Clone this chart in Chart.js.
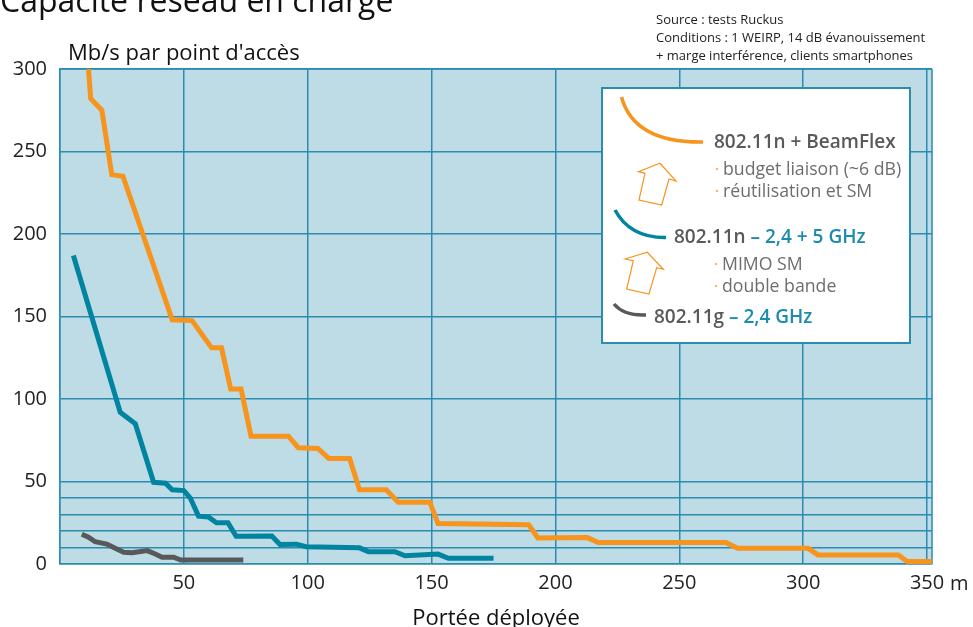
<!DOCTYPE html>
<html>
<head>
<meta charset="utf-8">
<script src="https://cdn.jsdelivr.net/npm/chart.js@4"></script>
<style>
  body { margin: 0; background: #fff; }
  #wrap { width: 973px; height: 627px; position: relative; }
</style>
</head>
<body>
<div id="wrap"><canvas id="myChart"></canvas></div>
<script>
// distance (m) / throughput (Mb/s)
const beamflexX = [11.5, 12.4, 16.9, 20.9, 25.4, 45.3, 53.3, 61.2, 65.2, 68.9, 73.1, 77.1, 92.2, 96.2, 104.1, 108.5, 116.9, 120.9, 131.7, 136.5, 149.3, 152.6, 189.2, 192.9, 212.8, 217.3, 268.8, 273.5, 302, 306, 338.4, 342, 352];
const beamflexY = [300, 282, 275, 236, 235, 148, 147.5, 131, 131, 106, 106, 77.5, 77.5, 70.5, 70, 64, 64, 45, 45, 37.5, 37.5, 24.5, 23.8, 15.8, 16, 13, 13, 9.5, 9.5, 5.5, 5.5, 1.5, 1.5];

const dualbandX = [5.4, 24.3, 30.4, 37.8, 42.6, 45.3, 50, 52.6, 55.9, 59.9, 63.2, 67.8, 71.1, 85.5, 88.8, 95.4, 99.3, 120.9, 124.5, 135.2, 139.3, 152.6, 156.8, 175];
const dualbandY = [187, 92, 85, 49.5, 49, 45, 44.5, 40, 29, 28.5, 25, 25, 16.8, 17, 11.8, 12, 10.5, 9.8, 7.5, 7.5, 5, 6, 3.5, 3.5];

const gX = [8.8, 11.5, 14.2, 18.9, 22.3, 25.7, 29.1, 35.2, 37.8, 41.2, 45.9, 48.7, 74];
const gY = [18, 16.2, 13.5, 12.1, 9.5, 7.1, 6.8, 8.1, 6.5, 4.1, 4.1, 2.4, 2.4];

const seriesNames = ["802.11n + BeamFlex", "802.11n – 2,4 + 5 GHz", "802.11g – 2,4 GHz"];
const yTickLabels = [0, 50, 100, 150, 200, 250, 300];
const xTicks = [0, 50, 100, 150, 200, 250, 300, 350];

const ORANGE = "#f7941d";
const TEAL = "#00849f";
const GREY = "#58595b";
const GRID = "#2b8cae";
const FONT = "'Open Sans', Lato, sans-serif";

function pts(xs, ys) {
  return xs.map((x, i) => ({ x: x, y: ys[i] }));
}

const decor = {
  id: "decor",
  beforeDraw(chart) {
    const { ctx, chartArea: a } = chart;
    ctx.save();
    ctx.fillStyle = "#bddce6";
    ctx.fillRect(a.left, a.top, a.right - a.left, a.bottom - a.top);
    ctx.restore();
  },
  beforeDatasetsDraw(chart) {
    const { ctx, chartArea: a } = chart;
    ctx.save();
    ctx.strokeStyle = GRID;
    ctx.lineWidth = 1.5;
    ctx.beginPath();
    ctx.moveTo(a.right, a.top);
    ctx.lineTo(a.right, a.bottom);
    ctx.moveTo(a.left, a.top);
    ctx.lineTo(a.right, a.top);
    ctx.stroke();
    ctx.restore();
  },
  afterDraw(chart) {
    const ctx = chart.ctx;
    const xs = chart.scales.x;
    ctx.save();

    // title, cut off at the top as in the picture
    ctx.fillStyle = "#111";
    ctx.font = "32px " + FONT;
    ctx.textBaseline = "alphabetic";
    ctx.fillText("Capacité réseau en charge", 0, 12);

    ctx.font = "22px " + FONT;
    ctx.fillText("Mb/s par point d'accès", 68, 60);

    // unit after last x tick
    ctx.fillStyle = "#222";
    ctx.textBaseline = "middle";
    ctx.font = "20px " + FONT;
    ctx.fillText("m", xs.getPixelForValue(350) + 23, 584);

    // source note
    ctx.textBaseline = "alphabetic";
    ctx.font = "13px " + FONT;
    ctx.fillStyle = "#222";
    ctx.fillText("Source : tests Ruckus", 656, 24);
    ctx.fillText("Conditions : 1 WEIRP, 14 dB évanouissement", 656, 42);
    ctx.fillText("+ marge interférence, clients smartphones", 656, 60);

    // legend box
    ctx.fillStyle = "#fff";
    ctx.fillRect(602, 88, 308, 255);
    ctx.strokeStyle = GRID;
    ctx.lineWidth = 2;
    ctx.strokeRect(602, 88, 308, 255);

    ctx.lineWidth = 3.5;
    ctx.lineCap = "butt";
    ctx.strokeStyle = ORANGE;
    ctx.beginPath();
    ctx.moveTo(621.5, 97);
    ctx.quadraticCurveTo(634, 143, 703, 142);
    ctx.stroke();

    ctx.strokeStyle = TEAL;
    ctx.beginPath();
    ctx.moveTo(615, 210);
    ctx.quadraticCurveTo(630, 238, 666, 237.5);
    ctx.stroke();

    ctx.strokeStyle = GREY;
    ctx.beginPath();
    ctx.moveTo(614, 304);
    ctx.quadraticCurveTo(624, 316, 646, 315);
    ctx.stroke();

    // hollow arrows
    ctx.strokeStyle = ORANGE;
    ctx.lineWidth = 1.2;
    ctx.lineJoin = "miter";
    const arrows = [
      [[638.3, 171.7], [660, 163.3], [676, 181], [669, 179], [661.7, 205], [639, 200], [645, 173.3]],
      [[625, 259], [647.3, 252.3], [663.3, 269.3], [656.7, 267.7], [649, 294], [626.7, 289], [633.3, 260.7]]
    ];
    arrows.forEach(p => {
      ctx.beginPath();
      ctx.moveTo(p[0][0], p[0][1]);
      p.slice(1).forEach(q => ctx.lineTo(q[0], q[1]));
      ctx.closePath();
      ctx.stroke();
    });

    // legend texts
    ctx.font = "600 19px " + FONT;
    ctx.fillStyle = "#595959";
    ctx.fillText(seriesNames[0], 714, 148);

    let w = 0;
    ctx.fillText("802.11n", 674, 243);
    w = ctx.measureText("802.11n").width;
    ctx.fillStyle = "#1b8bb0";
    ctx.fillText(" – 2,4 + 5 GHz", 674 + w, 243);

    ctx.fillStyle = "#595959";
    ctx.fillText("802.11g", 654, 323);
    w = ctx.measureText("802.11g").width;
    ctx.fillStyle = "#1b8bb0";
    ctx.fillText(" – 2,4 GHz", 654 + w, 323);

    const bullets = [
      ["budget liaison (~6 dB)", 723, 175],
      ["réutilisation et SM", 723, 197],
      ["MIMO SM", 722, 270],
      ["double bande", 722, 292]
    ];
    ctx.font = "17.7px " + FONT;
    bullets.forEach(b => {
      ctx.fillStyle = "#f9b87a";
      ctx.beginPath();
      ctx.arc(b[1] - 6, b[2] - 6, 1.3, 0, Math.PI * 2);
      ctx.fill();
      ctx.fillStyle = "#6d6d6d";
      ctx.fillText(b[0], b[1], b[2]);
    });

    ctx.restore();
  }
};

const ctx = document.getElementById("myChart");

new Chart(ctx, {
  type: "line",
  data: {
    datasets: [
      {
        label: seriesNames[0],
        data: pts(beamflexX, beamflexY),
        borderColor: ORANGE,
      },
      {
        label: seriesNames[1],
        data: pts(dualbandX, dualbandY),
        borderColor: TEAL,
      },
      {
        label: seriesNames[2],
        data: pts(gX, gY),
        borderColor: GREY,
      },
    ],
  },
  options: {
    responsive: true,
    maintainAspectRatio: false,
    animation: false,
    layout: { padding: { top: 69, right: 41, left: 0, bottom: 0 } },
    elements: {
      line: { borderWidth: 5, tension: 0, borderJoinStyle: "miter", fill: false },
      point: { radius: 0 },
    },
    plugins: {
      legend: { display: false },
      tooltip: { enabled: false },
    },
    scales: {
      x: {
        type: "linear",
        min: 0,
        max: 352,
        afterBuildTicks: (s) => { s.ticks = xTicks.map((v) => ({ value: v })); },
        afterFit: (s) => { s.height = 63; },
        grid: { color: GRID, lineWidth: 1.5, drawTicks: false },
        border: { color: GRID, width: 1.5 },
        ticks: {
          maxRotation: 0,
          autoSkip: false,
          padding: 7,
          color: "#222",
          font: { family: FONT, size: 20 },
          callback: (v) => (v === 0 ? "" : String(v)),
        },
        title: {
          display: true,
          text: "Portée déployée",
          color: "#111",
          font: { family: FONT, size: 22 },
          padding: { top: 0, bottom: -5 },
        },
      },
      y: {
        min: 0,
        max: 300,
        afterFit: (s) => { s.width = 60; },
        grid: {
          lineWidth: 1.5,
          drawTicks: false,
          color: (c) => (c.tick && (c.tick.value % 50 === 0 || c.tick.value < 50) ? GRID : "rgba(0,0,0,0)"),
        },
        border: { color: GRID, width: 1.5 },
        ticks: {
          stepSize: 10,
          autoSkip: false,
          padding: 13,
          color: "#222",
          font: { family: FONT, size: 20 },
          callback: (v) => (yTickLabels.includes(v) ? String(v) : ""),
        },
      },
    },
  },
  plugins: [decor],
});
</script>
</body>
</html>
